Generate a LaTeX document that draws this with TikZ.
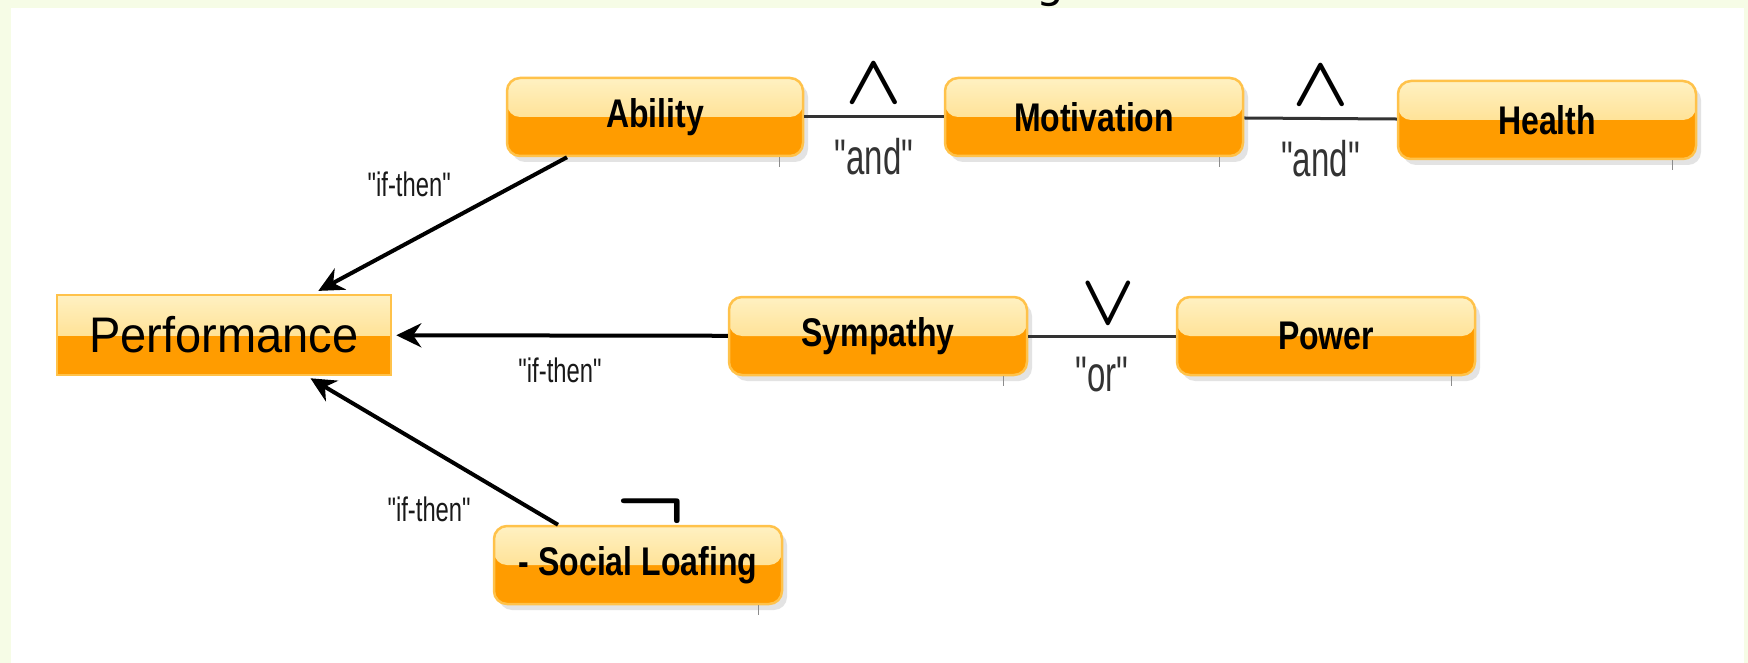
\documentclass[tikz,border=0pt]{standalone}
\usepackage{fontspec}
\setmainfont{Liberation Sans}
\newfontfamily\boxfont[FakeStretch=0.8]{Liberation Sans}
\newfontfamily\perffont[FakeStretch=0.94]{Liberation Sans}
\newfontfamily\labfont[FakeStretch=0.7]{Liberation Sans}
\newfontfamily\quotefont[FakeStretch=0.66]{Liberation Sans}
\newfontfamily\symfont{DejaVu Sans}
\usetikzlibrary{arrows.meta,shadows}
\newcommand{\logicsym}[3]{\scalebox{#1}[#2]{\boldmath$#3$}}

\definecolor{pagegreen}{HTML}{F6FCE6}
\definecolor{boxlight}{HTML}{FFF1C2}
\definecolor{boxmid}{HTML}{FFD46E}
\definecolor{boxorange}{HTML}{FF9C00}
\definecolor{boxedge}{HTML}{FFC24A}

\tikzset{
  twotone/.style={fill=boxorange, draw=boxedge, line width=2.5pt, inner sep=0pt,
    path picture={\shade[top color=boxlight, bottom color=boxmid]
      (path picture bounding box.north west) rectangle (path picture bounding box.east);}},
  factor/.style={twotone, rounded corners=13pt, minimum height=78pt,
    font=\boxfont\bfseries\fontsize{40pt}{48pt}\selectfont,
    drop shadow={shadow xshift=5pt, shadow yshift=-6pt, opacity=0.22}},
  outcome/.style={twotone, minimum width=334pt, minimum height=80pt,
    font=\perffont\fontsize{50pt}{60pt}\selectfont},
  ifthen/.style={-{Stealth[length=25pt,width=24pt]}, line width=4pt, black},
  joinline/.style={line width=3pt, black!80},
  op/.style={inner sep=0pt, text=black},
  quoted/.style={inner sep=0pt, text=black!80, font=\quotefont\fontsize{50pt}{54pt}\selectfont},
  iflabel/.style={inner sep=0pt, text=black!90, font=\labfont\fontsize{34pt}{38pt}\selectfont},
  tick/.style={line width=1pt, black!45}
}

\begin{document}
\begin{tikzpicture}[x=1pt,y=-1pt]
% page
\fill[pagegreen] (0,0) rectangle (1748,663);
\fill[white] (11,8) rectangle (1744,663);
\useasboundingbox (0,0) rectangle (1748,663);
\begin{scope}
\clip (0,0) rectangle (1748,663);
\node[anchor=south, inner sep=0pt, font=\symfont\fontsize{44pt}{48pt}\selectfont] (title) at (1050,7) {g};
\end{scope}

% boxes
\node[outcome] (perf) at (224,335) {Performance};
\foreach \x/\y/\w/\name/\txt in {655/117/296/ability/Ability, 1094/117/298/motiv/Motivation,
    1547/120/298/health/Health, 878/336/298/symp/Sympathy, 1326/336/298/power/Power,
    638/565/288/social/- Social Loafing} {
  \node[factor, minimum width=\w pt] (\name) at (\x,\y) {\txt};
}
\foreach \name in {ability,motiv,health,symp,power,social}
  \draw[tick] ([xshift=-25pt]\name.south east) -- ++(0,10);

% and / or
\draw[joinline] (ability) -- node[op, above=12pt] (and1op) {\logicsym{7.4}{7}{\wedge}}
  node[quoted, below=20pt] (and1) {"and"} (motiv);
\draw[joinline] (motiv) -- node[op, above=12pt] (and2op) {\logicsym{7.4}{7}{\wedge}}
  node[quoted, below=20pt] (and2) {"and"} (health);
\draw[joinline] (symp) -- node[op, pos=0.54, above=10pt] (orop) {\logicsym{7}{7.2}{\vee}}
  node[quoted, pos=0.5, below=20pt] (or) {"or"} (power);

% if-then arrows
\draw[ifthen, shorten >=6pt] ([xshift=-88pt]ability.south) --
  node[iflabel, pos=0.45, anchor=south east, yshift=20pt] (if1) {"if-then"}
  ([xshift=89pt]perf.north);
\draw[ifthen, shorten >=4pt] (symp) --
  node[iflabel, below=20pt] (if2) {"if-then"} (perf);
\draw[ifthen, shorten >=4pt] ([xshift=-80pt]social.north) --
  node[iflabel, pos=0.34, anchor=north east, yshift=-21pt] (if3) {"if-then"}
  ([xshift=83pt]perf.south);
\node[op, anchor=base] (neg) at ([xshift=13pt, yshift=-4pt]social.north) {\logicsym{9.2}{8}{\neg}};
\end{tikzpicture}
\end{document}
